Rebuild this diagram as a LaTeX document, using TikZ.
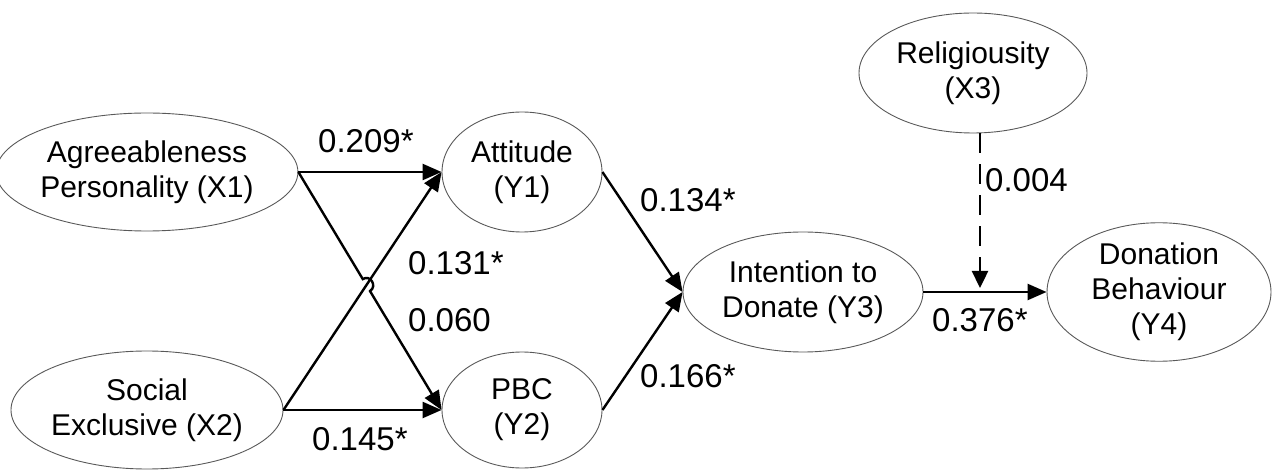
\documentclass[tikz,border=0pt]{standalone}
\usepackage{fontspec}
\setmainfont{Liberation Sans}
\usetikzlibrary{shapes.geometric,arrows.meta,calc}
\begin{document}
\begin{tikzpicture}[x=1pt,y=-1pt,
  latent/.style={ellipse,draw=black!65,line width=0.9pt,inner sep=0pt,align=center,
     font=\fontsize{30}{35}\selectfont},
  arr/.style={line width=2.4pt,-{Triangle[length=19pt,width=16pt]}},
  darr/.style={line width=2.4pt,dash pattern=on 20pt off 11pt,-{Triangle[length=17pt,width=16pt]}},
  lbl/.style={anchor=base west,inner sep=0pt,font=\fontsize{33}{38}\selectfont}]
\useasboundingbox (0,0) rectangle (1272,470);
\node[latent,minimum width=272pt,minimum height=118pt] (x1) at (147,172) {Agreeableness\\Personality (X1)};
\node[latent,minimum width=272pt,minimum height=118pt] (x2) at (147,410) {Social\\Exclusive (X2)};
\node[latent,minimum width=160pt,minimum height=120pt] (y1) at (522,172) {Attitude\\(Y1)};
\node[latent,minimum width=160pt,minimum height=116pt] (y2) at (522,410) {PBC\\(Y2)};
\node[latent,minimum width=240pt,minimum height=120pt] (y3) at (803,292) {Intention to\\Donate (Y3)};
\node[latent,minimum width=224pt,minimum height=120pt] (y4) at (1159,292) {Donation\\Behaviour\\(Y4)};
\node[latent,minimum width=228pt,minimum height=120pt] (x3) at (973,73) {Religiousity\\(X3)};
% crossing point and hop
\coordinate (cr) at (intersection of x1.east--y2.west and x2.east--y1.west);
\coordinate (hA) at ($(cr)!7pt!(x1.east)$);
\coordinate (hB) at ($(cr)!7pt!(y2.west)$);
\draw[arr] (x1.east) -- (y1.west);
\draw[arr] (x2.east) -- (y1.west);
\draw[arr] (x2.east) -- (y2.west);
\draw[arr] (x1.east) -- (hA) .. controls ($(hA)+(7.5,-5)$) and ($(hB)+(7.5,-5)$) .. (hB) -- (y2.west);
\draw[arr] (y1.east) -- (y3.west);
\draw[arr] (y2.east) -- (y3.west);
\draw[arr] (y3.east) -- (y4.west);
\coordinate (m) at (980,292);
\draw[darr,shorten >=4pt] (x3.south -| m) -- (m);
% labels
\node[lbl] (l1) at (318,153) {0.209*};
\node[lbl] (l2) at (408,275) {0.131*};
\node[lbl] (l3) at (408,332) {0.060};
\node[lbl] (l4) at (312,450) {0.145*};
\node[lbl] (l5) at (640,212) {0.134*};
\node[lbl] (l6) at (640,388) {0.166*};
\node[lbl] (l7) at (985,192) {0.004};
\node[lbl] (l8) at (932,332) {0.376*};
\end{tikzpicture}
\end{document}
